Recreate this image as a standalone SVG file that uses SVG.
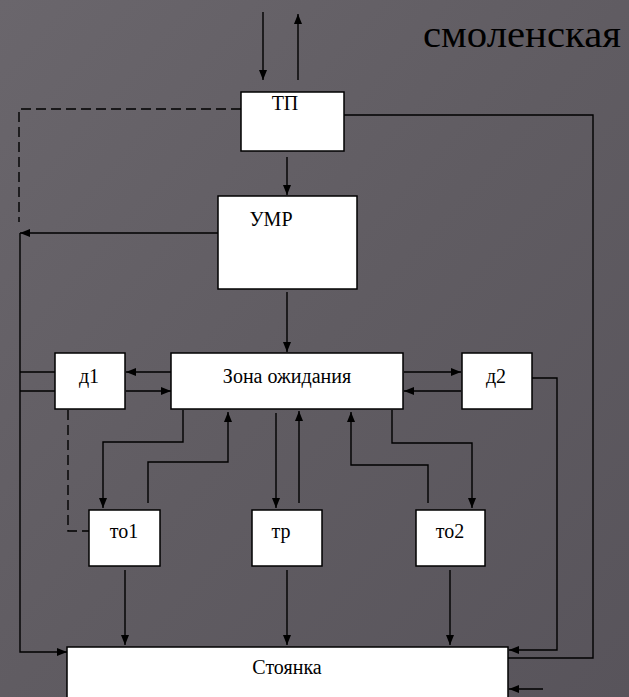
<svg xmlns="http://www.w3.org/2000/svg" width="629" height="697" viewBox="0 0 629 697">
<defs>
<linearGradient id="bg" x1="0" y1="0" x2="1" y2="1">
<stop offset="0" stop-color="#6a666c"/>
<stop offset="0.5" stop-color="#605c62"/>
<stop offset="1" stop-color="#58545b"/>
</linearGradient>
<marker id="ah" viewBox="0 0 10 8" refX="10" refY="4" markerWidth="10" markerHeight="8" markerUnits="userSpaceOnUse" orient="auto">
<path d="M0,0 L10,4 L0,8 Z" fill="#000"/>
</marker>
<style>
.box{fill:#fff;stroke:#000;stroke-width:1.5}
.ln{fill:none;stroke:#000;stroke-width:1.4}
.arr{fill:none;stroke:#000;stroke-width:1.4;marker-end:url(#ah)}
.dash{fill:none;stroke:#000;stroke-width:1.4;stroke-dasharray:10,5}
.t{font-size:20px;fill:#000;text-anchor:middle}
</style>
</defs>
<rect width="629" height="697" fill="url(#bg)"/>
<text x="423" y="47" font-family="Liberation Serif, Times New Roman, serif" font-size="38" fill="#000" textLength="198" lengthAdjust="spacingAndGlyphs">смоленская</text>

<g id="connectors">
<line class="arr" x1="263" y1="12" x2="263" y2="80"/>
<line class="arr" x1="298" y1="80" x2="298" y2="14"/>
<polyline class="dash" points="241,109 19,109 19,222"/>
<polyline class="ln" points="344,115 593,115 593,658 508,658"/>
<line class="arr" x1="287" y1="157" x2="287" y2="195"/>
<line class="arr" x1="218" y1="233" x2="20" y2="233"/>
<polyline class="arr" points="20,233 20,652 67,652"/>
<line class="ln" x1="20" y1="372" x2="55" y2="372"/>
<line class="ln" x1="20" y1="391" x2="55" y2="391"/>
<line class="arr" x1="171" y1="372" x2="126" y2="372"/>
<line class="arr" x1="126" y1="391" x2="171" y2="391"/>
<line class="arr" x1="287" y1="292" x2="287" y2="352"/>
<line class="arr" x1="404" y1="372" x2="461" y2="372"/>
<line class="arr" x1="461" y1="391" x2="404" y2="391"/>
<polyline class="arr" points="532,378 557,378 557,650 509,650"/>
<polyline class="dash" points="68,410 68,531 89,531"/>
<polyline class="arr" points="183,410 183,442 103,442 103,508"/>
<polyline class="arr" points="148,503 148,462 228,462 228,412"/>
<line class="arr" x1="276" y1="413" x2="276" y2="508"/>
<line class="arr" x1="299" y1="503" x2="299" y2="411"/>
<polyline class="arr" points="392,410 392,443 472,443 472,508"/>
<polyline class="arr" points="428,503 428,465 351,465 351,412"/>
<line class="arr" x1="125" y1="570" x2="125" y2="645"/>
<line class="arr" x1="287" y1="570" x2="287" y2="645"/>
<line class="arr" x1="450" y1="570" x2="450" y2="645"/>
<line class="arr" x1="543" y1="689" x2="509" y2="689"/>
</g>

<g font-family="Liberation Serif, Times New Roman, serif">
<g id="tp"><rect class="box" x="241" y="92" width="103" height="59"/><text class="t" x="285" y="110">ТП</text></g>
<g id="umr"><rect class="box" x="218" y="196" width="139" height="93"/><text class="t" x="271" y="226">УМР</text></g>
<g id="d1"><rect class="box" x="55" y="353" width="70" height="56"/><text class="t" x="89" y="383">д1</text></g>
<g id="zona"><rect class="box" x="171" y="353" width="232" height="56"/><text class="t" x="287" y="383">Зона ожидания</text></g>
<g id="d2"><rect class="box" x="462" y="353" width="70" height="56"/><text class="t" x="496" y="383">д2</text></g>
<g id="to1"><rect class="box" x="89" y="510" width="71" height="56"/><text class="t" x="124" y="538">то1</text></g>
<g id="tr"><rect class="box" x="252" y="510" width="70" height="56"/><text class="t" x="281" y="538">тр</text></g>
<g id="to2"><rect class="box" x="416" y="510" width="69" height="56"/><text class="t" x="450" y="538">то2</text></g>
<g id="stoyanka"><rect class="box" x="67" y="647" width="441" height="60"/><text class="t" x="287" y="674">Стоянка</text></g>
</g>
</svg>
